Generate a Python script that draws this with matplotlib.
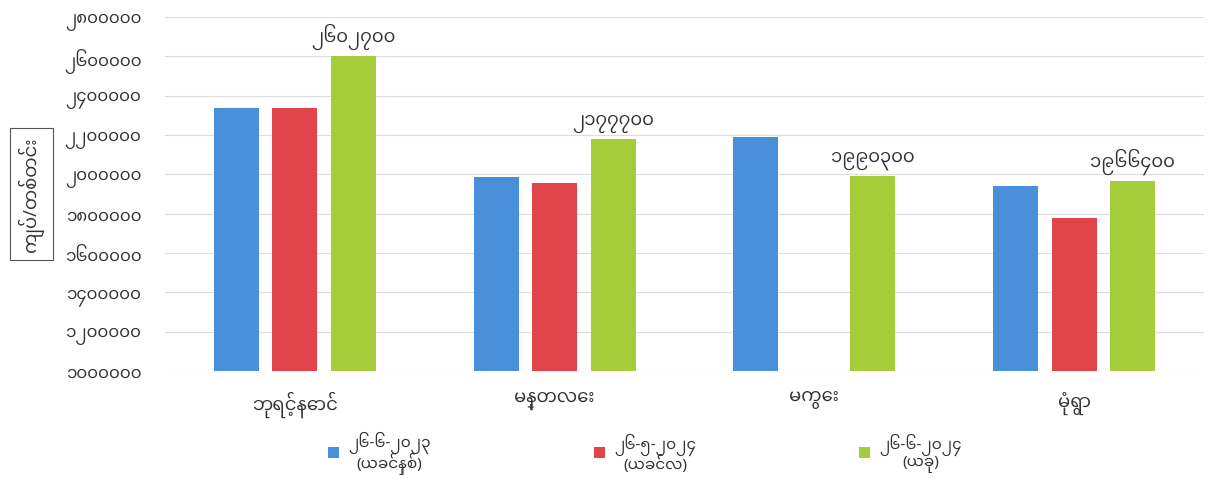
import numpy as np
import matplotlib
matplotlib.use("Agg")
import matplotlib.pyplot as plt

plt.rcParams["font.family"] = ["Noto Sans Myanmar", "DejaVu Sans"]

categories = ["ဘုရင့်နောင်", "မန္တလေး", "မကွေး", "မုံရွာ"]
series_names = ["၂၆-၆-၂၀၂၃\n(ယခင်နှစ်)", "၂၆-၅-၂၀၂၄\n(ယခင်လ)", "၂၆-၆-၂၀၂၄\n(ယခု)"]
prev_year = [2337000, 1986000, 2189000, 1940000]
prev_month = [2337000, 1955000, np.nan, 1777000]
current = [2602700, 2177700, 1990300, 1966400]
yticks = [1000000, 1200000, 1400000, 1600000, 1800000, 2000000, 2200000, 2400000, 2600000, 2800000]
colors = ["#4a8fd9", "#e2444b", "#a5cd3b"]

MM = str.maketrans("0123456789", "၀၁၂၃၄၅၆၇၈၉")


def mm(n):
    return str(int(n)).translate(MM)


fig = plt.figure(figsize=(12.19, 4.89), dpi=100)
ax = fig.add_axes([0.1354, 0.2393, 0.8523, 0.7239])

x = np.arange(len(categories))
w = 0.173
step = 0.225
for i, vals in enumerate([prev_year, prev_month, current]):
    ax.bar(x + (i - 1) * step, vals, width=w, color=colors[i], label=series_names[i], zorder=3)

for xi, v in zip(x, current):
    ax.text(xi + step, v + 35000, mm(v), ha="center", va="bottom", fontsize=13, color="#333333")

ax.set_xlim(-0.5, 3.5)
ax.set_ylim(1000000, 2800000)
ax.set_yticks(yticks)
ax.set_yticklabels([mm(t) for t in yticks], fontsize=12, color="#333333")
ax.set_xticks(x)
ax.set_xticklabels(categories, fontsize=13, color="#333333")
ax.tick_params(length=0)
ax.tick_params(axis="y", pad=17)
ax.tick_params(axis="x", pad=14)
ax.grid(axis="y", color="#dddddd", linewidth=0.8, zorder=0)
for s in ax.spines.values():
    s.set_visible(False)

ax.set_ylabel("ကျပ်/တစ်တင်း", fontsize=13, labelpad=14, color="#333333",
              bbox=dict(facecolor="white", edgecolor="#555555", linewidth=0.8, pad=6))

leg = ax.legend(loc="upper center", bbox_to_anchor=(0.462, -0.13), ncol=3, frameon=False,
                fontsize=11, handlelength=0.7, handleheight=0.7, columnspacing=10.7,
                handletextpad=0.6)
for t in leg.get_texts():
    t.set_multialignment("center")
    t.set_linespacing(0.95)
    t.set_color("#333333")

fig.savefig("out.png", dpi=100)
